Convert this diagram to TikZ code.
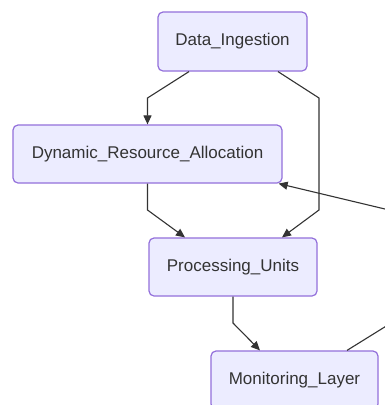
\documentclass[tikz,border=0pt]{standalone}
\usepackage{fontspec}
\setmainfont{Liberation Sans}
\usetikzlibrary{arrows.meta}
\definecolor{nodefill}{HTML}{ECECFF}
\definecolor{nodeborder}{HTML}{9370DB}
\definecolor{txt}{HTML}{333333}
\definecolor{edgec}{HTML}{333333}
\begin{document}
\begin{tikzpicture}[x=1pt,y=-1pt,
  box/.style={draw=nodeborder,fill=nodefill,line width=1.2pt,rounded corners=5pt,
    inner sep=0pt,minimum height=58pt,text=txt,font=\fontsize{17}{20}\selectfont},
  edge/.style={draw=edgec,line width=1.1pt,-{Triangle[length=9pt,width=8pt]}}]
\useasboundingbox (0,0) rectangle (385,405);
\clip (0,0) rectangle (385,405);
\fill[white] (0,0) rectangle (385,405);
\node[box,minimum width=149pt,minimum height=59pt] (DI) at (232.5,41.5) {Data\_Ingestion};
\node[box,minimum width=269pt] (DRA) at (147.5,154) {Dynamic\_Resource\_Allocation};
\node[box,minimum width=168pt] (PU) at (233,267) {Processing\_Units};
\node[box,minimum width=167pt] (ML) at (294.5,380) {Monitoring\_Layer};
\coordinate (o1) at (400,317.5);
\coordinate (o2) at (400,212.6);
\draw[edge] ([xshift=-43.5pt]DI.south) -- (147.5,98) -- (DRA.north);
\draw[edge] ([xshift=45.5pt]DI.south) -- (319,98) -- (319,210) -- ([xshift=49pt]PU.north);
\draw[edge] (DRA.south) -- (147.5,210) -- ([xshift=-48pt]PU.north);
\draw[edge] (PU.south) -- (233,323) -- ([xshift=-34.5pt]ML.north);
\draw[edge] ([xshift=52.5pt]ML.north) -- (o1) -- (o2) -- ([xshift=-4pt]DRA.south east);
\end{tikzpicture}
\end{document}
